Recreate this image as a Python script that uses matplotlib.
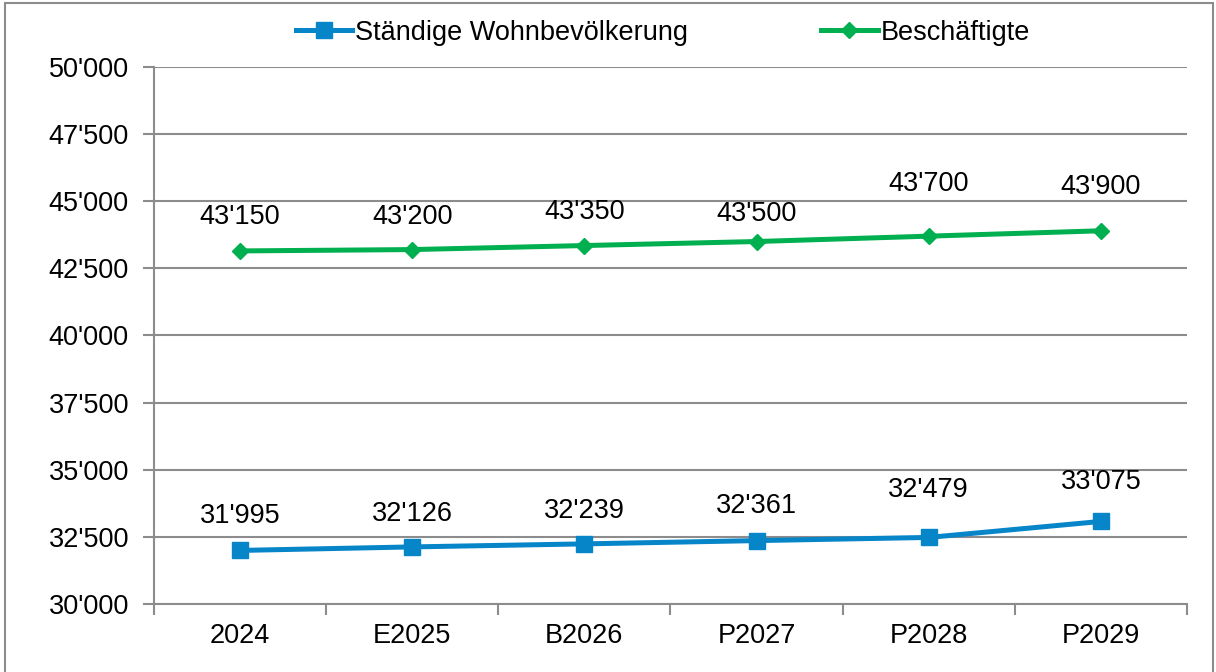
import matplotlib.pyplot as plt
import matplotlib.ticker as mticker
from matplotlib.patches import Rectangle
import numpy as np

plt.rcParams['font.family'] = ['Liberation Sans', 'DejaVu Sans']

categories = ["2024", "E2025", "B2026", "P2027", "P2028", "P2029"]
wohnbevoelkerung = [31995, 32126, 32239, 32361, 32479, 33075]
beschaeftigte = [43150, 43200, 43350, 43500, 43700, 43900]

# label offsets above points (pixels), as in the original layout
off_blue = [34, 33, 33, 35, 47, 39]
off_green = [34, 33, 34, 28, 52, 44]

blue = "#0685C9"
green = "#00B050"
grey = "#8C8C8C"
fs = 19.5

def fmt(v, pos=None):
    return "{:,.0f}".format(v).replace(",", "'")

fig = plt.figure(figsize=(12.16, 6.72), dpi=100)
ax = fig.add_axes([0.1266, 0.1012, 0.8495, 0.7991])

x = np.arange(len(categories))
ax.plot(x, wohnbevoelkerung, color=blue, lw=3.6, marker="s", ms=11,
        label="Ständige Wohnbevölkerung")
ax.plot(x, beschaeftigte, color=green, lw=3.6, marker="D", ms=8.5,
        label="Beschäftigte")

for xi, v, o in zip(x, wohnbevoelkerung, off_blue):
    ax.annotate(fmt(v), (xi, v), xytext=(0, o * 0.72), textcoords="offset points",
                ha="center", va="center", fontsize=fs)
for xi, v, o in zip(x, beschaeftigte, off_green):
    ax.annotate(fmt(v), (xi, v), xytext=(0, o * 0.72), textcoords="offset points",
                ha="center", va="center", fontsize=fs)

ax.set_ylim(30000, 50000)
ax.set_xlim(-0.5, len(categories) - 0.5)
ax.yaxis.set_major_locator(mticker.MultipleLocator(2500))
ax.yaxis.set_major_formatter(mticker.FuncFormatter(fmt))
ax.set_xticks(x)
ax.set_xticklabels(categories)
ax.set_xticks(np.arange(-0.5, len(categories)), minor=True)
ax.tick_params(axis="x", which="major", length=0, pad=14, labelsize=fs)
ax.tick_params(axis="x", which="minor", length=8, color=grey, width=1.5)
ax.tick_params(axis="y", length=8, color=grey, width=1.5, labelsize=fs, pad=10)
ax.grid(axis="y", color=grey, lw=1.5)
ax.set_axisbelow(True)
for s in ["top", "right"]:
    ax.spines[s].set_visible(False)
for s in ["left", "bottom"]:
    ax.spines[s].set_color(grey)
    ax.spines[s].set_linewidth(1.5)

fig.legend(loc="center", bbox_to_anchor=(0.545, 0.951), ncol=2, frameon=False,
           fontsize=fs, handlelength=2.1, handletextpad=0.1, columnspacing=4.9)

fig.patches.append(Rectangle((5 / 1216, -0.01), 1208 / 1216, 1 - 3 / 672 + 0.01,
                             transform=fig.transFigure, fill=False,
                             edgecolor=grey, lw=1.5))

fig.savefig("out.png", dpi=100)
